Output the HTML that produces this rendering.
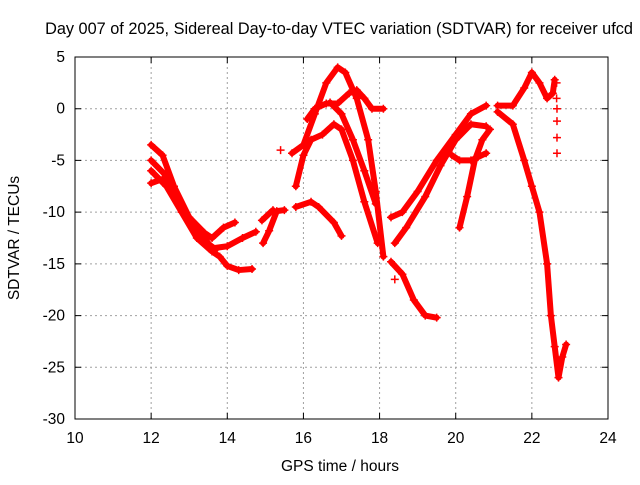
<!DOCTYPE html>
<html><head><meta charset="utf-8"><style>
body{margin:0;background:#fff}
svg text{font-family:"Liberation Sans",sans-serif;font-size:15.5px;fill:#000}
</style></head><body>
<svg id="chart" width="640" height="480" xmlns="http://www.w3.org/2000/svg">
<rect width="640" height="480" fill="#fff"/>
<text x="339" y="34" text-anchor="middle" style="font-size:16.3px">Day 007 of 2025, Sidereal Day-to-day VTEC variation (SDTVAR) for receiver ufcd</text>
<text x="340" y="471" text-anchor="middle">GPS time / hours</text>
<text x="0" y="0" transform="translate(19,238) rotate(-90)" text-anchor="middle">SDTVAR / TECUs</text>
<g id="grid"></g>
<g id="ticks"></g>
<g id="series"></g>
<rect x="75" y="57" width="533" height="362" fill="none" stroke="#000" stroke-width="1"/>
</svg>
<script>
const xTicks=[10,12,14,16,18,20,22,24];
const yTicks=[5,0,-5,-10,-15,-20,-25,-30];
const track1=[[12,-3.5],[12.3,-4.5],[12.6,-7.5],[13.0,-10.5],[13.4,-12],[13.6,-12.5],[13.9,-11.5],[14.2,-11]];
const track2=[[12,-5],[12.4,-6.5],[12.8,-9.5],[13.2,-11.5],[13.6,-13.5],[14.0,-13.3],[14.4,-12.5],[14.75,-11.9]];
const track3=[[12,-6],[12.4,-7.5],[12.8,-10],[13.2,-12.5],[13.6,-13.8],[13.8,-14.3],[14.0,-15.2],[14.3,-15.6],[14.65,-15.5]];
const track4=[[12,-7.2],[12.3,-6.8],[12.6,-8.5],[13.0,-11],[13.4,-12.8],[13.7,-13.6]];
const track5=[[14.94,-13],[15.1,-11.8],[15.3,-9.9],[15.5,-9.8]];
const track6=[[14.91,-10.8],[15.2,-9.8]];
const track7=[[15.8,-9.5],[16.2,-9],[16.4,-9.5],[16.8,-11],[17.0,-12.3]];
const track8=[[15.7,-4.3],[16.0,-3.5],[16.3,-0.5],[16.6,2.5],[16.9,4.0],[17.1,3.5],[17.4,1],[17.7,-3],[17.9,-8],[18.1,-14.3]];
const track9=[[15.8,-7.5],[16.0,-4.5],[16.2,-3],[16.5,-2.5],[16.8,-1.5],[17.0,-2],[17.3,-5],[17.6,-9],[17.95,-13]];
const track10=[[16.1,-1],[16.3,0],[16.6,0.5],[16.9,0.5],[17.2,1.5],[17.4,1.8],[17.6,1],[17.8,0],[18.1,0]];
const track11=[[16.7,0.6],[17.0,-0.5],[17.3,-3],[17.6,-6],[17.9,-9.2]];
const track12=[[18.3,-10.5],[18.6,-10],[19,-8],[19.5,-5],[20,-2.5],[20.4,-0.5],[20.8,0.3]];
const track13=[[18.4,-13],[18.7,-11.5],[19.2,-8.5],[19.6,-5.5],[20,-3],[20.4,-1.5],[20.8,-1.7]];
const track14=[[19.9,-4.5],[20.1,-5],[20.4,-5],[20.8,-4.3]];
const track15=[[20.1,-11.5],[20.3,-8.5],[20.5,-5],[20.7,-3],[20.9,-2]];
const track16=[[18.3,-14.8],[18.6,-16],[18.9,-18.5],[19.2,-20],[19.5,-20.2]];
const track17=[[21.1,0.3],[21.5,0.3],[21.8,2],[22.0,3.5],[22.2,2.5],[22.4,1],[22.55,1.5],[22.6,2.8]];
const track18=[[21.1,-0.3],[21.5,-1.5],[21.8,-5],[22.0,-7.5],[22.2,-10],[22.4,-15],[22.5,-20],[22.6,-23],[22.7,-26],[22.8,-24],[22.9,-22.8]];
const singles=[[15.4,-4],[18.4,-16.5],[22.65,2.5],[22.65,1],[22.66,0],[22.66,-1.2],[22.66,-2.8],[22.66,-4.3]];
const tracks=[track1,track2,track3,track4,track5,track6,track7,track8,track9,track10,track11,track12,track13,track14,track15,track16,track17,track18];

const X0=75,X1=608,Y0=57,Y1=419;
const xs=t=>X0+(t-10)/(24-10)*(X1-X0);
const ys=v=>Y0+(5-v)/(5+30)*(Y1-Y0);
const NS="http://www.w3.org/2000/svg";
const grid=document.getElementById('grid'),ticks=document.getElementById('ticks'),series=document.getElementById('series');
function mk(tag,attrs,parent){const e=document.createElementNS(NS,tag);for(const k in attrs)e.setAttribute(k,attrs[k]);parent.appendChild(e);return e;}
xTicks.forEach(t=>{
  const x=xs(t);
  if(t>10&&t<24){const g=mk('line',{x1:x,x2:x,y1:Y0,y2:Y1,stroke:'#a0a0a0','stroke-dasharray':'2,3'},grid);
  
  }
  const tk=mk('path',{d:`M${x},${Y1}v-6M${x},${Y0}v6`,stroke:'#000'},ticks);
  
  
  const l=mk('text',{x:x,y:Y1+24,'text-anchor':'middle'},ticks);l.textContent=t;
  
  
});
yTicks.forEach(v=>{
  const y=ys(v);
  if(v<5&&v>-30){const g=mk('line',{x1:X0,x2:X1,y1:y,y2:y,stroke:'#a0a0a0','stroke-dasharray':'2,3'},grid);
  
  }
  const tk=mk('path',{d:`M${X0},${y}h6M${X1},${y}h-6`,stroke:'#000'},ticks);
  
  
  const l=mk('text',{x:X0-10,y:y+5,'text-anchor':'end'},ticks);l.textContent=v;
  
  
});
function plus(t,v){
  const x=xs(t),y=ys(v);
  const p=mk('path',{d:`M${x-4},${y}h8M${x},${y-4}v8`,stroke:'#f00','stroke-width':1.5},series);
  
  
}
tracks.forEach((tr,i)=>{
  const pl=mk('polyline',{points:tr.map(p=>xs(p[0])+','+ys(p[1])).join(' '),fill:'none',stroke:'#f00','stroke-width':6,'stroke-linejoin':'round','stroke-linecap':'round'},series);
  
  
  tr.forEach(p=>plus(p[0],p[1]));
});
singles.forEach(p=>plus(p[0],p[1]));
</script>
</body></html>
